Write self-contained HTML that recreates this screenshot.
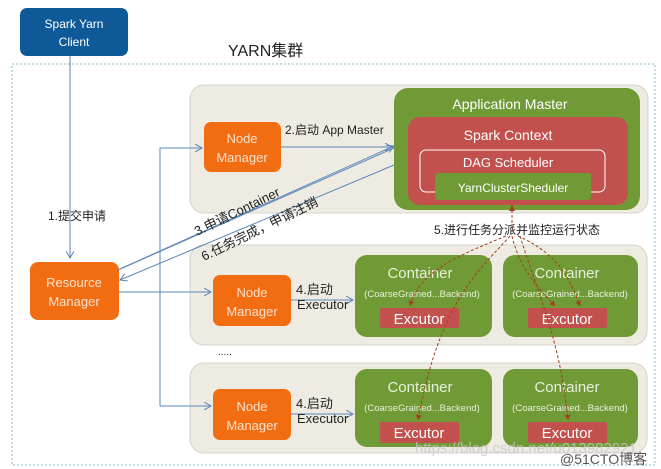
<!DOCTYPE html>
<html><head><meta charset="utf-8"><style>
html,body{margin:0;padding:0;background:#fff;width:661px;height:469px;overflow:hidden}
svg{display:block;font-family:"Liberation Sans","Noto Sans CJK SC",sans-serif}
</style></head><body>
<svg width="661" height="469" viewBox="0 0 661 469" xmlns="http://www.w3.org/2000/svg">
<defs>
<marker id="a" markerWidth="8" markerHeight="8" refX="7" refY="4" orient="auto"><path d="M0,0 L7,4 L0,8" fill="none" stroke="#5b86b8" stroke-width="1"/></marker>
<marker id="r" markerWidth="6" markerHeight="6" refX="5" refY="3" orient="auto"><path d="M0,0 L5,3 L0,6z" fill="#a0401e"/></marker>
</defs>
<rect x="12" y="64" width="643" height="401" fill="none" stroke="#8ab4cc" stroke-dasharray="2,2"/>
<rect x="20" y="8" width="108" height="48" rx="7" fill="#0e5a99"/>
<text x="74" y="28" fill="#fff" font-size="12" text-anchor="middle">Spark Yarn</text>
<text x="74" y="46" fill="#fff" font-size="12" text-anchor="middle">Client</text>
<text x="228" y="56" font-size="16" fill="#222">YARN集群</text>

<rect x="190" y="85" width="458" height="128" rx="14" fill="#eeebe3" stroke="#d6d3cb"/>
<rect x="190" y="245" width="457" height="100" rx="14" fill="#eeebe3" stroke="#d6d3cb"/>
<rect x="190" y="363" width="457" height="90" rx="14" fill="#eeebe3" stroke="#d6d3cb"/>

<rect x="394" y="88" width="246" height="122" rx="14" fill="#6f9a35"/>
<text x="510" y="109" fill="#fff" font-size="14" text-anchor="middle">Application Master</text>
<rect x="408" y="117" width="220" height="88" rx="12" fill="#c2504d"/>
<text x="508" y="140" fill="#fff" font-size="14" text-anchor="middle">Spark Context</text>
<rect x="420" y="150" width="185" height="42" rx="6" fill="none" stroke="#fff" stroke-width="1"/>
<text x="508" y="167" fill="#fff" font-size="13" text-anchor="middle">DAG Scheduler</text>
<rect x="435" y="173" width="156" height="27" rx="3" fill="#6f9a35"/>
<text x="513" y="192" fill="#fff" font-size="12" text-anchor="middle">YarnClusterSheduler</text>

<g font-size="13" fill="#fde3d0" text-anchor="middle">
<rect x="204" y="122" width="77" height="50" rx="7" fill="#f26c12"/>
<text x="242" y="143">Node</text><text x="242" y="162">Manager</text>
<rect x="213" y="275" width="78" height="51" rx="7" fill="#f26c12"/>
<text x="252" y="297">Node</text><text x="252" y="316">Manager</text>
<rect x="213" y="389" width="78" height="51" rx="7" fill="#f26c12"/>
<text x="252" y="411">Node</text><text x="252" y="430">Manager</text>
<rect x="30" y="262" width="89" height="58" rx="8" fill="#f26c12"/>
<text x="74" y="287">Resource</text><text x="74" y="306">Manager</text>
</g>

<g font-size="15" fill="#e8f0dc" text-anchor="middle">
<rect x="355" y="255" width="137" height="82" rx="12" fill="#6f9a35"/>
<rect x="503" y="255" width="135" height="82" rx="12" fill="#6f9a35"/>
<rect x="355" y="369" width="137" height="78" rx="12" fill="#6f9a35"/>
<rect x="503" y="369" width="135" height="78" rx="12" fill="#6f9a35"/>
<text x="420" y="278">Container</text><text x="567" y="278">Container</text>
<text x="420" y="392">Container</text><text x="567" y="392">Container</text>
<g font-size="9.5"><text x="422" y="297">(CoarseGrained...Backend)</text><text x="570" y="297">(CoarseGrained...Backend)</text>
<text x="422" y="411">(CoarseGrained...Backend)</text><text x="570" y="411">(CoarseGrained...Backend)</text></g>
<rect x="380" y="308" width="79" height="20" rx="2" fill="#c2504d"/>
<rect x="528" y="308" width="79" height="20" rx="2" fill="#c2504d"/>
<rect x="380" y="422" width="79" height="21" rx="2" fill="#c2504d"/>
<rect x="528" y="422" width="79" height="21" rx="2" fill="#c2504d"/>
<g font-size="15" fill="#fff"><text x="419" y="324">Excutor</text><text x="567" y="324">Excutor</text><text x="419" y="438">Excutor</text><text x="567" y="438">Excutor</text></g>
</g>

<g stroke="#5b86b8" stroke-width="1" fill="none">
<path d="M70 56 V258" marker-end="url(#a)"/>
<path d="M160 406 V148 H202" marker-end="url(#a)"/>
<path d="M119 292 H211" marker-end="url(#a)"/>
<path d="M160 406 H211" marker-end="url(#a)"/>
<path d="M281 147 H392" marker-end="url(#a)"/>
<path d="M291 300 H353" marker-end="url(#a)"/>
<path d="M291 414 H353" marker-end="url(#a)"/>
<path d="M118 270 L394 148"/><path d="M122 268 L394 146" marker-end="url(#a)"/>
<path d="M394 165 L120 280" marker-end="url(#a)"/>
</g>
<g stroke="#a0401e" stroke-width="1" fill="none" stroke-dasharray="3,2">
<path d="M512 205 V232"/>
<path d="M506 236 C460 255 420 270 410 306" marker-end="url(#r)"/>
<path d="M512 236 C520 270 540 290 555 306" marker-end="url(#r)"/>
<path d="M518 236 C560 255 570 280 580 306" marker-end="url(#r)"/>
<path d="M510 236 C480 270 440 300 418 420" marker-end="url(#r)"/>
<path d="M520 236 C540 300 560 340 568 420" marker-end="url(#r)"/>
</g>
<path d="M512 205 l-3 6 h6z" fill="#a0401e"/>

<g font-size="12" fill="#222">
<text x="48" y="220">1.提交申请</text>
<text x="285" y="134">2.启动 App Master</text>
<text x="296" y="294" font-size="13">4.启动</text><text x="297" y="309" font-size="13">Executor</text>
<text x="296" y="408" font-size="13">4.启动</text><text x="297" y="423" font-size="13">Executor</text>
<text x="434" y="234">5.进行任务分派并监控运行状态</text>
<text x="218" y="355" font-size="10">.....</text>
<text transform="translate(197,236) rotate(-26)" font-size="13">3.申请Container</text>
<text transform="translate(204,261) rotate(-26)" font-size="13">6.任务完成，申请注销</text>
</g>
<text x="415" y="453" font-size="15" fill="#c8c8c8" opacity="0.8">https://blog.csdn.net/u013982921</text>
<text x="560" y="464" font-size="14" fill="#555">@51CTO博客</text>
</svg>
</body></html>
